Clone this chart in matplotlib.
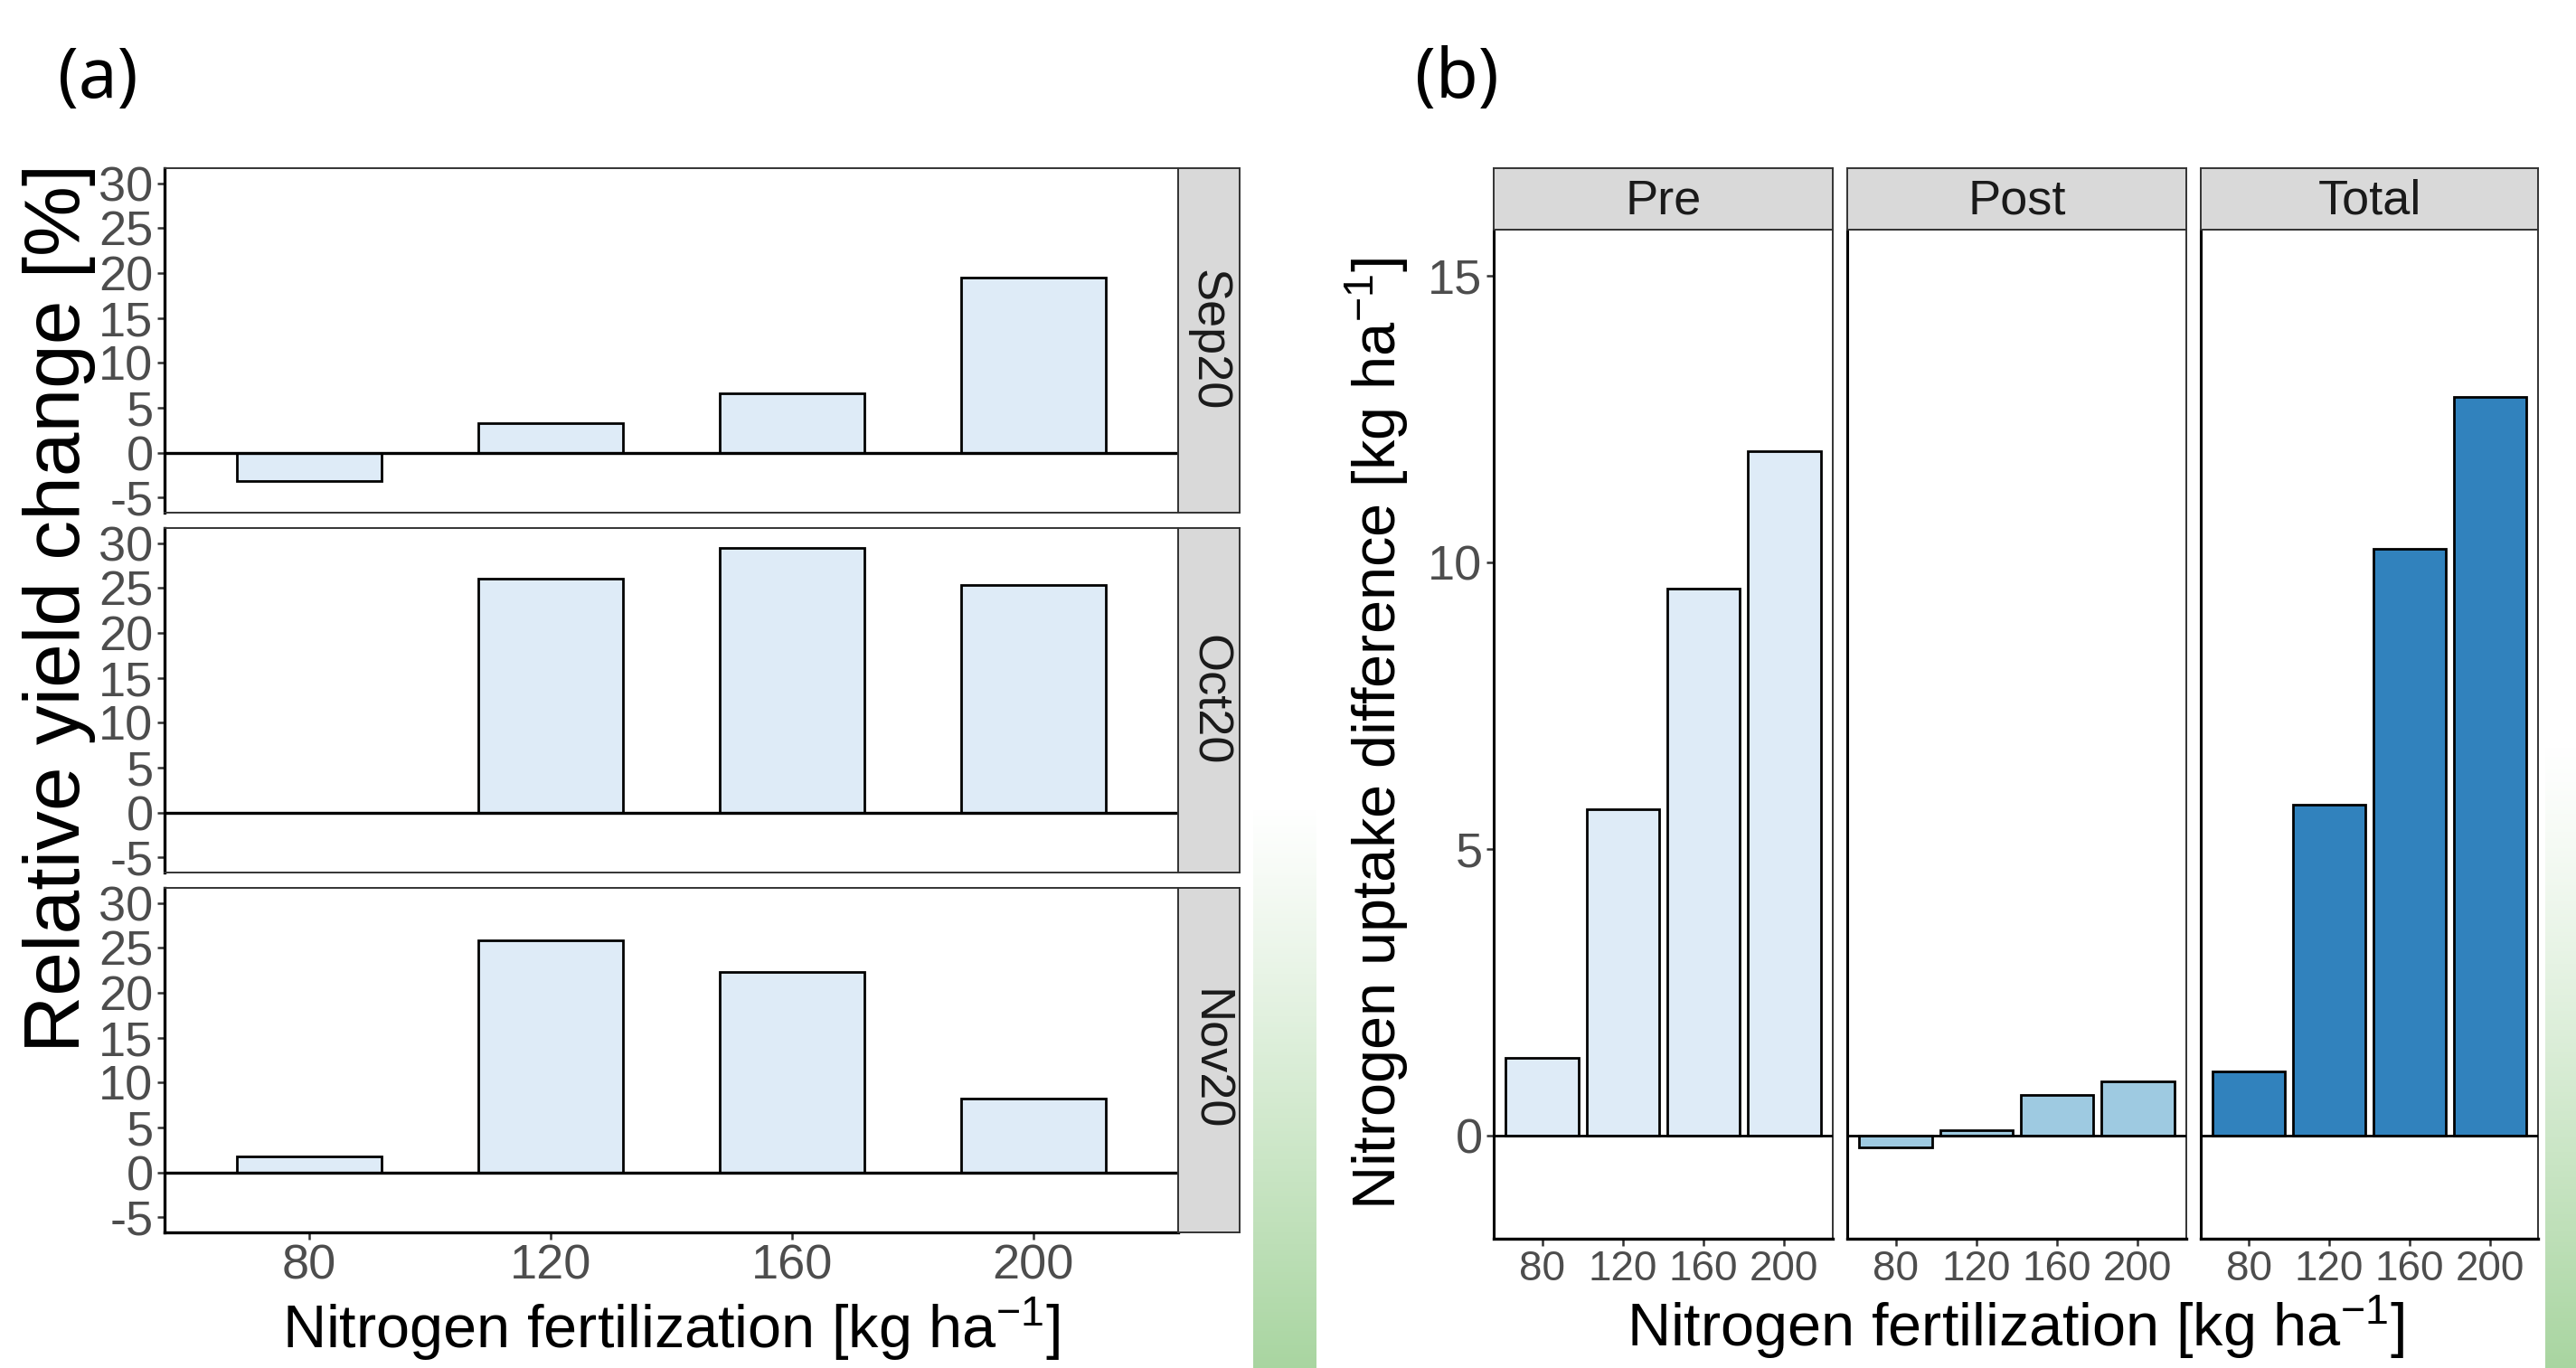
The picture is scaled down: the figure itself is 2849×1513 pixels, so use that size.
import numpy as np
import matplotlib
matplotlib.use('Agg')
import matplotlib.pyplot as plt

# ---------------- data ----------------
rates = [80, 120, 160, 200]
rate_labels = ['80', '120', '160', '200']
months = ['Sep20', 'Oct20', 'Nov20']
yield_sep = [-3.2, 3.3, 6.6, 19.5]
yield_oct = [np.nan, 26.1, 29.5, 25.4]
yield_nov = [1.8, 25.9, 22.3, 8.2]
phases = ['Pre', 'Post', 'Total']
uptake_pre = [1.35, 5.69, 9.54, 11.94]
uptake_post = [-0.2, 0.1, 0.71, 0.94]
uptake_total = [1.11, 5.77, 10.23, 12.89]
yield_ticks = [-5, 0, 5, 10, 15, 20, 25, 30]
uptake_ticks = [0, 5, 10, 15]

yield_series = [yield_sep, yield_oct, yield_nov]
uptake_series = [uptake_pre, uptake_post, uptake_total]
phase_colors = ['#DEEBF7', '#9ECAE1', '#3182BD']

plt.rcParams['font.family'] = ['Liberation Sans', 'DejaVu Sans']
plt.rcParams['mathtext.fontset'] = 'custom'
plt.rcParams['mathtext.rm'] = 'Liberation Sans'
plt.rcParams['mathtext.it'] = 'Liberation Sans'
plt.rcParams['axes.unicode_minus'] = False

W, H = 2849, 1513
fig = plt.figure(figsize=(W / 100, H / 100), dpi=100)
fig.patch.set_facecolor('white')


def rect(x0, y0, x1, y1):
    return [x0 / W, 1 - y1 / H, (x1 - x0) / W, (y1 - y0) / H]


# ---------------- green background strokes ----------------
def green_band(x0, y0, x1, y1, power=1.0, zorder=0):
    ax = fig.add_axes(rect(x0, y0, x1, y1), zorder=zorder)
    n = 200
    img = np.zeros((n, 2, 4))
    img[..., 0] = 168 / 255
    img[..., 1] = 213 / 255
    img[..., 2] = 160 / 255
    a = np.linspace(0, 1, n) ** power
    img[..., 3] = a[:, None]
    ax.imshow(img, aspect='auto', extent=[0, 1, 1, 0])
    ax.set_axis_off()


green_band(1386, 890, 1456, 1513, power=1.1)
green_band(2815, 820, 2849, 1513, power=1.2)

border_col = '#333333'
tick_col = '#333333'
label_col = '#4D4D4D'

# ---------------- panel (a) ----------------
left_rows = [(186, 567), (584, 965), (982, 1363)]
xa0, xa1, xs1 = 182, 1303, 1371
pos = np.arange(len(rates))
for i, (y0, y1) in enumerate(left_rows):
    ax = fig.add_axes(rect(xa0, y0, xa1, y1))
    vals = np.array(yield_series[i], dtype=float)
    ok = ~np.isnan(vals)
    ax.bar(pos[ok], vals[ok], width=0.6, color='#DEEBF7', edgecolor='black',
           linewidth=2.0, zorder=2)
    ax.axhline(0, color='black', linewidth=2.4, zorder=3)
    ax.set_xlim(-0.6, len(rates) - 0.4)
    ax.set_ylim(-6.7, 31.7)
    ax.set_yticks(yield_ticks)
    ax.set_yticklabels([str(t) for t in yield_ticks])
    ax.set_xticks(pos)
    ax.tick_params(axis='both', labelsize=39, colors=tick_col, labelcolor=label_col,
                   length=6, width=1.8, pad=3)
    if i == 2:
        ax.set_xticklabels(rate_labels)
    else:
        ax.set_xticklabels([])
        ax.tick_params(axis='x', length=0)
    for s in ax.spines.values():
        s.set_color(border_col)
        s.set_linewidth(1.4)
    ax.spines['left'].set_color('black')
    ax.spines['left'].set_linewidth(2.4)
    if i == 2:
        ax.spines['bottom'].set_color('black')
        ax.spines['bottom'].set_linewidth(2.4)
    ax.set_facecolor('white')
    # strip
    sax = fig.add_axes(rect(xa1, y0, xs1, y1))
    sax.set_facecolor('#D9D9D9')
    sax.set_xticks([])
    sax.set_yticks([])
    for s in sax.spines.values():
        s.set_color(border_col)
        s.set_linewidth(1.4)
    sax.text(0.5, 0.5, months[i], rotation=-90, ha='center', va='center',
             fontsize=39, color='#1A1A1A', transform=sax.transAxes)

fig.text(66 / W, 1 - 672 / H, 'Relative yield change [%]', rotation=90,
         ha='center', va='center', fontsize=63, color='black')
fig.text((xa0 + xa1) / 2 / W, 1 - 1470 / H, r'Nitrogen fertilization [kg ha$^{-1}$]',
         ha='center', va='center', fontsize=48, color='black')

# ---------------- panel (b) ----------------
right_cols = [(1652, 2027), (2043, 2418), (2434, 2807)]
ys0, yb0, yb1 = 186, 254, 1370
for j, (x0, x1) in enumerate(right_cols):
    ax = fig.add_axes(rect(x0, yb0, x1, yb1))
    ax.bar(pos, uptake_series[j], width=0.9, color=phase_colors[j], edgecolor='black',
           linewidth=2.0, zorder=2)
    ax.axhline(0, color='black', linewidth=2.0, zorder=3)
    ax.set_xlim(-0.6, len(rates) - 0.4)
    ax.set_ylim(-1.8, 15.8)
    ax.set_xticks(pos)
    ax.set_xticklabels(rate_labels)
    ax.set_yticks(uptake_ticks)
    ax.tick_params(axis='both', colors=tick_col, labelcolor=label_col, width=1.8,
                   pad=3, length=6)
    ax.tick_params(axis='x', labelsize=33)
    if j == 0:
        ax.set_yticklabels([str(t) for t in uptake_ticks])
        ax.tick_params(axis='y', labelsize=39)
    else:
        ax.set_yticklabels([])
        ax.tick_params(axis='y', length=0)
    for s in ax.spines.values():
        s.set_color(border_col)
        s.set_linewidth(1.4)
    ax.spines['left'].set_color('black')
    ax.spines['left'].set_linewidth(2.2)
    ax.spines['bottom'].set_color('black')
    ax.spines['bottom'].set_linewidth(2.4)
    # strip
    sax = fig.add_axes(rect(x0, ys0, x1, yb0))
    sax.set_facecolor('#D9D9D9')
    sax.set_xticks([])
    sax.set_yticks([])
    for s in sax.spines.values():
        s.set_color(border_col)
        s.set_linewidth(1.4)
    sax.text(0.5, 0.47, phases[j], ha='center', va='center',
             fontsize=39, color='#1A1A1A', transform=sax.transAxes)

fig.text(1523 / W, 1 - 812 / H, r'Nitrogen uptake difference [kg ha$^{-1}$]', rotation=90,
         ha='center', va='center', fontsize=48, color='black')
fig.text((1652 + 2807) / 2 / W, 1 - 1468 / H, r'Nitrogen fertilization [kg ha$^{-1}$]',
         ha='center', va='center', fontsize=48, color='black')

# ---------------- panel letters ----------------
fig.text(64 / W, 1 - 88 / H, '(a)', ha='left', va='center', fontsize=55,
         family=['Noto Sans', 'DejaVu Sans'], color='black')
fig.text(1565 / W, 1 - 88 / H, '(b)', ha='left', va='center', fontsize=55,
         family=['Noto Sans', 'DejaVu Sans'], color='black')

fig.savefig('out.png', dpi=100, facecolor='white')
